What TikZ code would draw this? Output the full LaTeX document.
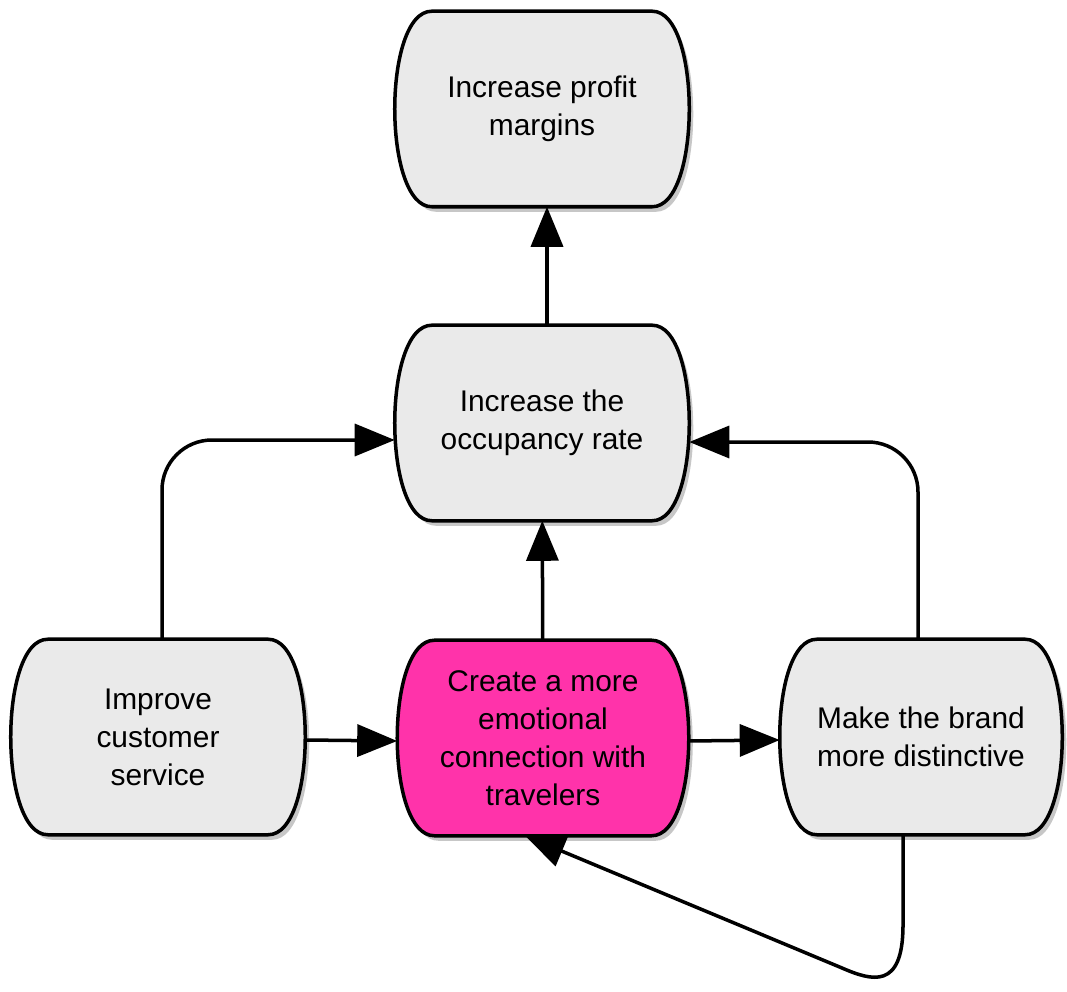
\documentclass[tikz,border=0pt]{standalone}
\usepackage{fontspec}
\setmainfont{Liberation Sans}
\usetikzlibrary{arrows.meta,calc}
\pgfdeclarelayer{bg}
\pgfsetlayers{bg,main}
\definecolor{goalgray}{HTML}{EAEAEA}
\definecolor{goalpink}{HTML}{FF33AA}
\newcommand{\goalshape}[1]{($(#1.north west)+(0.37cm,0)$) -- ($(#1.north east)+(-0.37cm,0)$)
  .. controls ($(#1.north east)+(0.123cm,0)$) and ($(#1.south east)+(0.123cm,0)$) .. ($(#1.south east)+(-0.37cm,0)$)
  -- ($(#1.south west)+(0.37cm,0)$)
  .. controls ($(#1.south west)+(-0.123cm,0)$) and ($(#1.north west)+(-0.123cm,0)$) .. cycle}
\tikzset{
  goal/.style={align=center, minimum width=2.93cm, minimum height=1.94cm, inner sep=0pt,
    font=\fontsize{8.5}{10.8}\selectfont},
  flow/.style={line width=0.035cm, -{Triangle[length=0.4cm,width=0.32cm]}},
}
\begin{document}
\begin{tikzpicture}[x=0.01cm, y=-0.01cm]
                        \useasboundingbox (0,0) rectangle (1067,992);

                        \node[goal] (profit) at (542,109) {Increase profit\\margins};
                        \node[goal] (occupancy) at (542,423) {Increase the\\occupancy rate};
                        \node[goal] (service) at (158,737) {Improve\\customer\\service};
                        \node[goal, minimum width=2.9cm] (emotion) at (543,738) {Create a more\\emotional\\connection with\\travelers};
                        \node[goal, minimum width=2.81cm] (brand) at (921,737) {Make the brand\\more distinctive};

                        % box outlines behind the texts
                        \begin{pgfonlayer}{bg}
                        \foreach \n/\c in {profit/goalgray, occupancy/goalgray, service/goalgray, emotion/goalpink, brand/goalgray} {
                            \begin{scope}[transform canvas={shift={(0.04cm,-0.05cm)}}]
                                \fill[black!22] \goalshape{\n};
                            \end{scope}
                            \draw[line width=0.035cm, fill=\c] \goalshape{\n};
                        }
                        \end{pgfonlayer}

                        \draw[flow] ([xshift=0.05cm]occupancy.north) -- ([xshift=0.05cm]profit.south);
                        \draw[flow] (emotion) -- (occupancy);
                        \draw[flow] ([yshift=-0.03cm]service.east) -- ([yshift=-0.03cm]emotion.west);
                        \draw[flow] ([yshift=-0.03cm]emotion.east) -- ([yshift=-0.03cm]brand.west);
                        \draw[flow, rounded corners=0.5cm] ([xshift=0.04cm]service.north) |- ([yshift=-0.17cm]occupancy.west);
                        \draw[flow, rounded corners=0.5cm] ([xshift=-0.03cm]brand.north) |- ([yshift=-0.19cm]occupancy.east);

                        % loop back from the brand box
                        \coordinate (loopend) at (842,968);
                        \draw[flow] ([xshift=-0.18cm]brand.south) -- (903,925)
                            .. controls (903,990) and (872,981) .. (loopend)
                            -- ([xshift=-0.18cm]emotion.south);
                    \end{tikzpicture}
\end{document}
